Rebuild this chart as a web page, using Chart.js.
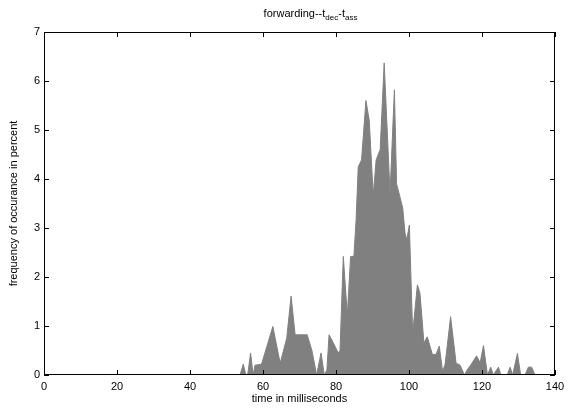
<!DOCTYPE html>
<html>
<head>
<meta charset="utf-8">
<script src="https://cdn.jsdelivr.net/npm/chart.js@4.4.1/dist/chart.umd.min.js"></script>
<style>
  html, body { margin: 0; padding: 0; background: #fff; }
  #wrap { width: 576px; height: 409px; }
</style>
</head>
<body>
<div id="wrap"><canvas id="hist"></canvas></div>
<script>
// delay histogram: time (ms) vs frequency (%)
const times = [53.7, 54.6, 55.3, 55.8, 56.6, 57.3, 57.8, 59.6, 62.7, 64.7, 66.5, 67.7, 68.8, 72.1, 73.4, 74.7,
  75.9, 76.8, 77.5, 78.1, 79.3, 80.6, 81.1, 82.0, 83.1, 84.0, 84.9, 85.5, 86.1, 87.0, 88.2, 89.1, 90.2,
  91.0, 92.1, 93.2, 94.8, 96.0, 96.6, 97.5, 98.3, 98.9, 99.4, 100.1, 101.0, 102.3, 103.0, 104.1, 105.0,
  106.4, 107.4, 108.3, 109.2, 109.9, 111.4, 112.9, 114.0, 115.2, 115.9, 116.9, 118.5, 119.5, 120.4,
  121.5, 122.4, 123.1, 124.5, 125.2, 126.9, 127.7, 128.4, 129.7, 130.6, 131.8, 132.7, 133.6, 134.5];
const freq = [0, 0.22, 0, 0, 0.45, 0, 0.2, 0.22, 0.99, 0.24, 0.75, 1.61, 0.82, 0.82, 0.5, 0,
  0.45, 0, 0.1, 0.82, 0.65, 0.45, 0.5, 2.42, 1.22, 2.42, 2.42, 3.16, 4.25, 4.39, 5.6, 5.2, 3.67,
  4.39, 4.6, 6.37, 3.7, 5.82, 3.9, 3.64, 3.4, 2.9, 2.76, 3.06, 0.85, 1.84, 1.67, 0.65, 0.78,
  0.42, 0.42, 0.59, 0.07, 0.22, 1.19, 0.24, 0.2, 0, 0.1, 0.2, 0.39, 0.25, 0.6,
  0, 0.16, 0, 0.16, 0, 0, 0.16, 0, 0.44, 0, 0, 0.16, 0.16, 0];

const xTicks = [0, 20, 40, 60, 80, 100, 120, 140];
const yTicks = [0, 1, 2, 3, 4, 5, 6, 7];

const FONT = 'Liberation Sans, Arial, Helvetica, sans-serif';

// gnuplot style frame: border plus inward ticks on all four sides, and the subscripted title
const frame = {
  id: 'frame',
  afterDraw(chart) {
    const { ctx, chartArea: a, scales } = chart;
    ctx.save();
    ctx.strokeStyle = '#000';
    ctx.lineWidth = 1;
    ctx.strokeRect(a.left + 0.5, a.top + 0.5, a.right - a.left - 1, a.bottom - a.top - 1);
    const len = 5;
    ctx.beginPath();
    xTicks.forEach(v => {
      const px = Math.round(scales.x.getPixelForValue(v)) + 0.5;
      ctx.moveTo(px, a.bottom); ctx.lineTo(px, a.bottom - len);
      ctx.moveTo(px, a.top); ctx.lineTo(px, a.top + len);
    });
    yTicks.forEach(v => {
      const py = Math.round(scales.y.getPixelForValue(v)) + 0.5;
      ctx.moveTo(a.left, py); ctx.lineTo(a.left + len, py);
      ctx.moveTo(a.right, py); ctx.lineTo(a.right - len, py);
    });
    ctx.stroke();

    // title: forwarding--t_dec-t_ass
    const parts = [['forwarding--t', 11, 0], ['dec', 8, 3], ['-t', 11, 0], ['ass', 8, 3]];
    let w = 0;
    parts.forEach(p => { ctx.font = p[1] + 'px ' + FONT; w += ctx.measureText(p[0]).width; });
    let x = (a.left + a.right) / 2 + 11 - w / 2;
    ctx.fillStyle = '#000';
    ctx.textBaseline = 'alphabetic';
    parts.forEach(p => {
      ctx.font = p[1] + 'px ' + FONT;
      ctx.fillText(p[0], x, 17 + p[2]);
      x += ctx.measureText(p[0]).width;
    });
    ctx.restore();
  }
};

new Chart(document.getElementById('hist'), {
  type: 'line',
  data: {
    datasets: [{
      data: times.map((t, i) => ({ x: t, y: freq[i] })),
      borderColor: '#808080',
      backgroundColor: '#808080',
      borderWidth: 1,
      pointRadius: 0,
      tension: 0,
      fill: 'origin'
    }]
  },
  options: {
    responsive: true,
    maintainAspectRatio: false,
    animation: false,
    layout: { padding: { left: 0, right: 21, top: 32, bottom: 0 } },
    plugins: { legend: { display: false }, tooltip: { enabled: false } },
    scales: {
      x: {
        type: 'linear',
        min: 0, max: 140,
        grid: { display: false, drawTicks: false },
        border: { display: false },
        afterFit(s) { s.height = 34; },
        ticks: { stepSize: 20, padding: 5, color: '#000', font: { family: FONT, size: 11 } },
        title: { display: true, text: 'time in milliseconds', color: '#000', padding: { top: 0, bottom: 3 },
          font: { family: FONT, size: 11 } }
      },
      y: {
        min: 0, max: 7,
        grid: { display: false, drawTicks: false },
        border: { display: false },
        afterFit(s) { s.width = 44; },
        ticks: { stepSize: 1, padding: 4, color: '#000', font: { family: FONT, size: 11 } },
        title: { display: true, text: 'frequency of occurance in percent', color: '#000', padding: { top: 7, bottom: 0 },
          font: { family: FONT, size: 11 } }
      }
    }
  },
  plugins: [frame]
});
</script>
</body>
</html>
